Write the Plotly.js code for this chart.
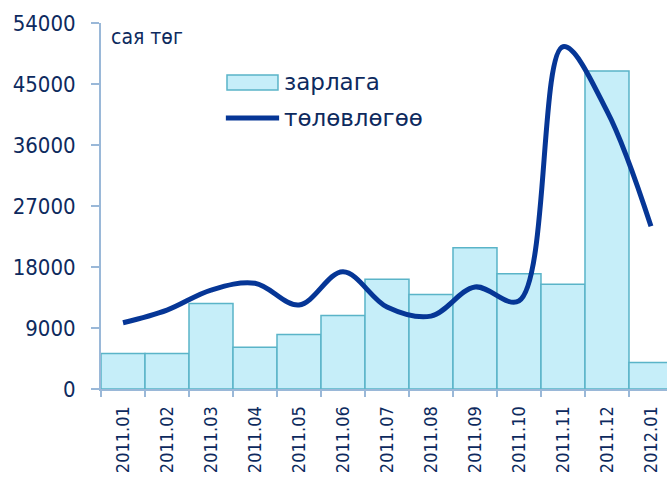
<!DOCTYPE html>
<html>
<head>
<meta charset="utf-8">
<script src="https://cdn.plot.ly/plotly-3.0.1.min.js"></script>
<style>html,body{margin:0;padding:0;background:#fff;}#chart{width:667px;height:479px;}</style>
</head>
<body>
<div id="chart"></div>
<script>
var categories = ["2011.01","2011.02","2011.03","2011.04","2011.05","2011.06","2011.07","2011.08","2011.09","2011.10","2011.11","2011.12","2012.01"];
var zarlaga = [5250, 5250, 12600, 6150, 8050, 10850, 16200, 13950, 20850, 17000, 15450, 46900, 3900];
var tolovlogoo = [9780, 11650, 14600, 15600, 12400, 17300, 12100, 10750, 15050, 13000, 50500, 41000, 24000];
var yTicks = [0, 9000, 18000, 27000, 36000, 45000, 54000];
var seriesNames = ["зарлага", "төлөвлөгөө"];

var FONT = "DejaVu Sans Condensed, DejaVu Sans, sans-serif";
var TXT = "#0d2a5e";
var AX = "#9ab8d8";
var BARFILL = "#c6eef9", BARLINE = "#5ab4c8", LINEC = "#063696";

var traces = [
  {
    type: "bar", name: seriesNames[0], x: categories, y: zarlaga,
    marker: {color: BARFILL, line: {color: BARLINE, width: 1.5}},
    hoverinfo: "x+y", showlegend: false
  },
  {
    type: "scatter", mode: "lines", name: seriesNames[1], x: categories, y: tolovlogoo,
    line: {color: LINEC, width: 5, shape: "spline", smoothing: 1},
    hoverinfo: "x+y", showlegend: false
  }
];

// legend drawn in plot-area paper coordinates
var legX0 = 0.2226, legX1 = 0.3127, legTxtX = 0.3268;
var layout = {
  width: 667, height: 479,
  margin: {l: 101, r: 0, t: 23, b: 90},
  paper_bgcolor: "#fff", plot_bgcolor: "#fff",
  bargap: 0,
  font: {family: FONT, color: TXT, size: 21},
  xaxis: {
    type: "category", range: [-0.5, 12.364],
    tickson: "boundaries", ticks: "outside", ticklen: 6, tickcolor: AX, tickwidth: 1.5,
    showline: true, linecolor: AX, linewidth: 2,
    showgrid: false, zeroline: false,
    tickangle: -90, ticklabelstandoff: 8,
    tickfont: {family: FONT, size: 18, color: TXT}
  },
  yaxis: {
    range: [0, 54000], tickvals: yTicks, ticktext: yTicks.map(String),
    ticks: "outside", ticklen: 8, tickcolor: AX, tickwidth: 1.5,
    showline: true, linecolor: AX, linewidth: 2,
    showgrid: false, zeroline: false,
    ticklabelstandoff: 11,
    tickfont: {family: FONT, size: 22, color: TXT}
  },
  showlegend: false,
  shapes: [
    {type: "rect", xref: "paper", yref: "paper", x0: legX0, x1: legX1, y0: 0.817, y1: 0.858,
     fillcolor: BARFILL, line: {color: BARLINE, width: 1.5}},
    {type: "line", xref: "paper", yref: "paper", x0: legX0 - 0.002, x1: legX1 + 0.002, y0: 0.7404, y1: 0.7404,
     line: {color: LINEC, width: 5}}
  ],
  annotations: [
    {xref: "paper", yref: "paper", x: 0.015, y: 1.0, xanchor: "left", yanchor: "top",
     text: "сая төг", showarrow: false, font: {family: FONT, size: 21, color: TXT}},
    {xref: "paper", yref: "paper", x: legTxtX, y: 0.839, xanchor: "left", yanchor: "middle",
     text: seriesNames[0], showarrow: false, xshift: -4,
     font: {family: "DejaVu Sans, sans-serif", size: 23, color: TXT}},
    {xref: "paper", yref: "paper", x: legTxtX, y: 0.7404, xanchor: "left", yanchor: "middle",
     text: seriesNames[1], showarrow: false, xshift: -4,
     font: {family: "DejaVu Sans, sans-serif", size: 23, color: TXT}}
  ]
};

Plotly.newPlot("chart", traces, layout, {displayModeBar: false, staticPlot: true});
</script>
</body>
</html>
